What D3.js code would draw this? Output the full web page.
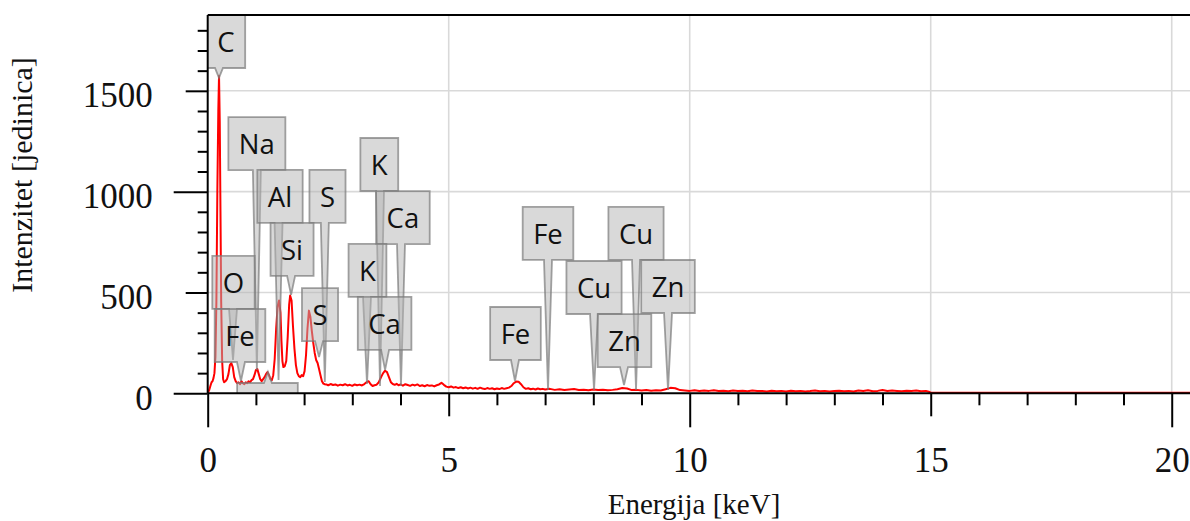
<!DOCTYPE html>
<html><head><meta charset="utf-8">
<script src="https://cdn.jsdelivr.net/npm/d3@7"></script>
<style>body{margin:0;background:#fff}svg{display:block}</style>
</head><body><svg id="chart" width="1190" height="521"></svg>
<script>
// ---- spectrum data [energy keV, counts] ----
const spectrumLow = [
[0,0],[0.03,15],[0.06,40],[0.08,55],[0.10,60],[0.12,75],[0.14,100],[0.16,180],[0.18,450],[0.20,1000],[0.22,1400],[0.235,1575],[0.25,1350],[0.265,900],[0.28,450],[0.30,160],[0.32,70],[0.34,55],[0.37,60],[0.40,70],[0.43,95],[0.46,140],[0.49,150],[0.52,130],[0.55,80],[0.58,60],[0.61,50],[0.64,55],[0.67,45],[0.70,60],[0.73,50],[0.76,45],[0.79,55],[0.82,50],[0.85,60],[0.88,55],[0.91,65],[0.94,70],[0.97,90],[1.00,115],[1.03,120],[1.06,95],[1.09,70],[1.12,60],[1.15,70],[1.18,80],[1.21,95],[1.24,105],[1.27,90],[1.30,70],[1.33,65],[1.36,90],[1.39,170],[1.42,320],[1.45,430],[1.48,460],[1.51,400],[1.53,260],[1.55,160],[1.57,130],[1.60,135],[1.63,160],[1.66,280],[1.69,440],[1.71,485],[1.74,460],[1.77,330],[1.80,220],[1.83,140],[1.86,100],[1.89,85],[1.92,80],[1.95,90],[1.98,85],[2.01,110],[2.04,190],[2.07,320],[2.10,410],[2.13,380],[2.16,310],[2.19,250],[2.22,200],[2.25,165],[2.28,150],[2.31,120],[2.34,90],[2.37,60],[2.40,48],[2.43,45]
];
const spectrumMid = [
[2.46,44],[2.50,40],[2.55,46],[2.60,41],[2.65,44],[2.70,38],[2.75,43],[2.80,40],[2.85,45],[2.90,39],[2.95,42],[3.00,37],[3.05,44],[3.10,40],[3.15,43],[3.20,39],[3.25,46],[3.30,56],[3.34,60],[3.38,45],[3.42,36],[3.46,40],[3.50,42],[3.55,55],[3.60,82],[3.64,100],[3.68,112],[3.72,105],[3.76,80],[3.80,55],[3.84,46],[3.88,42],[3.92,47],[3.96,40],[4.00,44],[4.05,38],[4.10,45],[4.15,41],[4.20,37],[4.25,43],[4.30,39],[4.35,44],[4.40,36],[4.45,40],[4.50,35],[4.55,41],[4.60,37],[4.65,39],[4.70,34],[4.75,40],[4.80,44],[4.85,52],[4.90,42],[4.95,33],[5.00,30],[5.05,34],[5.10,28],[5.15,31],[5.20,26],[5.25,30],[5.30,25],[5.35,29],[5.40,24],[5.45,28],[5.50,23],[5.55,27],[5.60,22],[5.65,28],[5.70,24],[5.75,21],[5.80,26],[5.85,22],[5.90,25],[5.95,20],[6.00,24],[6.05,21],[6.10,26],[6.15,22],[6.20,25],[6.25,28],[6.30,36],[6.35,50],[6.40,58],[6.45,57],[6.50,45],[6.55,30],[6.60,22],[6.65,25],[6.70,20],[6.75,23],[6.80,19],[6.85,24],[6.90,20],[6.95,22]
];
const spectrumHigh = [
[7.0,19],[7.1,22],[7.2,17],[7.3,20],[7.4,16],[7.5,19],[7.6,21],[7.7,16],[7.8,18],[7.9,15],[8.0,19],[8.1,16],[8.2,18],[8.3,15],[8.4,17],[8.5,20],[8.6,26],[8.7,24],[8.8,16],[8.9,17],[9.0,14],[9.1,16],[9.2,13],[9.3,15],[9.4,14],[9.5,20],[9.6,27],[9.7,25],[9.8,16],[9.9,14],[10.0,12],[10.1,15],[10.2,11],[10.3,14],[10.4,12],[10.5,15],[10.6,11],[10.7,13],[10.8,10],[10.9,14],[11.0,11],[11.1,13],[11.2,10],[11.3,14],[11.4,11],[11.5,12],[11.6,9],[11.7,13],[11.8,10],[11.9,12],[12.0,9],[12.1,13],[12.2,10],[12.3,12],[12.4,9],[12.5,11],[12.6,14],[12.7,10],[12.8,12],[12.9,9],[13.0,11],[13.1,13],[13.2,10],[13.3,12],[13.4,9],[13.5,14],[13.6,11],[13.7,15],[13.8,10],[13.9,12],[14.0,16],[14.1,11],[14.2,14],[14.3,12],[14.4,10],[14.5,13],[14.6,11],[14.7,14],[14.8,10],[14.9,12],[14.96,8],[15.0,3],[20.4,3]
];

// ---- element labels ----
const labelNames = ["C","Na","Al","S","Si","K","Ca","O","Fe","S","K","Ca","Fe","Fe","Cu","Cu","Zn","Zn","Mg"];
const labelTipE  = [0.234,1.02,1.47,2.43,1.73,3.575,4.01,0.525,0.69,2.31,3.305,3.68,6.375,7.06,8.015,8.886,8.637,9.55,1.25];
const labelTipI  = [1564,116,66,56,488,36,36,165,61,180,46,116,61,16,16,16,41,16,106];
const labelBoxE  = [0.38,1.02,1.50,2.485,1.75,3.56,4.05,0.535,0.67,2.33,3.315,3.67,6.385,7.06,8.015,8.886,8.647,9.55,1.24];
const labelBoxI  = [1876,1370,1108,1108,845,1266,1003,681,418,522,741,478,428,924,656,924,393,661,51];

// ---- axes ----
const xTickValues = d3.range(0, 21, 1);
const xTickLabels = [0,5,10,15,20];
const yTickValues = d3.range(0, 1801, 100);
const yTickLabels = [0,500,1000,1500];
const xGrid = [5,10,15,20];
const yGrid = [500,1000,1500];

const svg = d3.select("#chart");
const L = 207.7, T = 15, R = 1191, B = 393.3;
const x = d3.scaleLinear().domain([0, 20.4]).range([L, R]);
const y = d3.scaleLinear().domain([0, 1876]).range([B, T]);

svg.append("defs").append("clipPath").attr("id","plotclip")
  .append("rect").attr("x",L).attr("y",T).attr("width",R-L).attr("height",B-T);

// grid
const grid = svg.append("g");
grid.selectAll("line.gx").data(xGrid).join("line")
  .attr("x1",d=>x(d)).attr("x2",d=>x(d)).attr("y1",T).attr("y2",B)
  .attr("stroke","#d9d9d9").attr("stroke-width",1.6);
grid.selectAll("line.gy").data(yGrid).join("line")
  .attr("x1",L).attr("x2",R).attr("y1",d=>y(d)).attr("y2",d=>y(d))
  .attr("stroke","#d9d9d9").attr("stroke-width",1.6);

// spectrum
const spectrum = spectrumLow.concat(spectrumMid, spectrumHigh);
svg.append("path").datum(spectrum)
  .attr("clip-path","url(#plotclip)")
  .attr("d", d3.line().x(d=>x(d[0])).y(d=>y(d[1])))
  .attr("fill","none").attr("stroke","#ff0000").attr("stroke-width",2)
  .attr("stroke-linejoin","round");

// labels
const lab = svg.append("g").attr("clip-path","url(#plotclip)");
const BH = 53;
labelNames.forEach((name,i)=>{
  const g = lab.append("g");
  const p = g.append("path");
  const t = g.append("text").text(name)
    .attr("font-family","'Open Sans', 'Noto Sans', sans-serif")
    .attr("font-size",27.5).attr("fill","#111").attr("text-anchor","middle");
  const tw = t.node().getComputedTextLength();
  const w = tw + 21;
  const cx = x(labelBoxE[i]);
  const left = cx - w/2, right = cx + w/2;
  const top = y(labelBoxI[i]), bottom = top + BH;
  const tx = x(labelTipE[i]), ty = y(labelTipI[i]);
  const bx = Math.max(left+5, Math.min(right-5, tx));
  let d;
  if (ty > bottom) {
    d = `M${left},${top}H${right}V${bottom}H${bx+4}L${tx},${ty}L${bx-4},${bottom}H${left}Z`;
  } else {
    d = `M${left},${top}H${bx-4}L${tx},${ty}L${bx+4},${top}H${right}V${bottom}H${left}Z`;
  }
  p.attr("d",d).attr("fill","#b3b3b3").attr("fill-opacity",0.5)
   .attr("stroke","#7a7a7a").attr("stroke-opacity",0.7).attr("stroke-width",1.8)
   .attr("stroke-linejoin","miter");
  t.attr("x",cx).attr("y",top+37);
});

// frame lines
const fr = svg.append("g").attr("stroke","#000").attr("stroke-width",2);
fr.append("line").attr("x1",L).attr("x2",R).attr("y1",T).attr("y2",T);

// x axis
const xAxis = d3.axisBottom(x).tickValues(xTickValues)
  .tickFormat(d => xTickLabels.includes(d) ? d : "").tickSizeOuter(0);
const gx = svg.append("g").attr("transform",`translate(0,${B})`).call(xAxis);
gx.select(".domain").attr("stroke","#000").attr("stroke-width",2).attr("d",`M${L},0H${R}`);
gx.selectAll(".tick line").attr("stroke","#000").attr("stroke-width",2)
  .attr("y2", d => d%10===0 ? 34 : (d%5===0 ? 23 : 12));
gx.selectAll(".tick text").attr("y",79).attr("dy",null)
  .attr("font-family","'Liberation Serif','Times New Roman',serif").attr("font-size",35).attr("fill","#111");

// y axis
const yAxis = d3.axisLeft(y).tickValues(yTickValues)
  .tickFormat(d => yTickLabels.includes(d) ? d : "").tickSizeOuter(0);
const gy = svg.append("g").attr("transform",`translate(${L},0)`).call(yAxis);
gy.select(".domain").attr("stroke","#000").attr("stroke-width",2).attr("d",`M0,${T}V${B}`);
gy.selectAll(".tick line").attr("stroke","#000").attr("stroke-width",2)
  .attr("x2", d => d%1000===0 ? -34 : (d%500===0 ? -22 : -10));
gy.selectAll(".tick text").attr("x",-55).attr("dy",null).attr("y",16)
  .attr("font-family","'Liberation Serif','Times New Roman',serif").attr("font-size",35).attr("fill","#111");

// titles
svg.append("text").text("Energija [keV]")
  .attr("x",694).attr("y",514).attr("text-anchor","middle")
  .attr("font-family","'Liberation Serif','Times New Roman',serif").attr("font-size",29).attr("fill","#111");
svg.append("text").text("Intenzitet [jedinica]")
  .attr("transform","translate(32,175) rotate(-90)").attr("text-anchor","middle")
  .attr("font-family","'Liberation Serif','Times New Roman',serif").attr("font-size",30).attr("fill","#111");
</script></body></html>
